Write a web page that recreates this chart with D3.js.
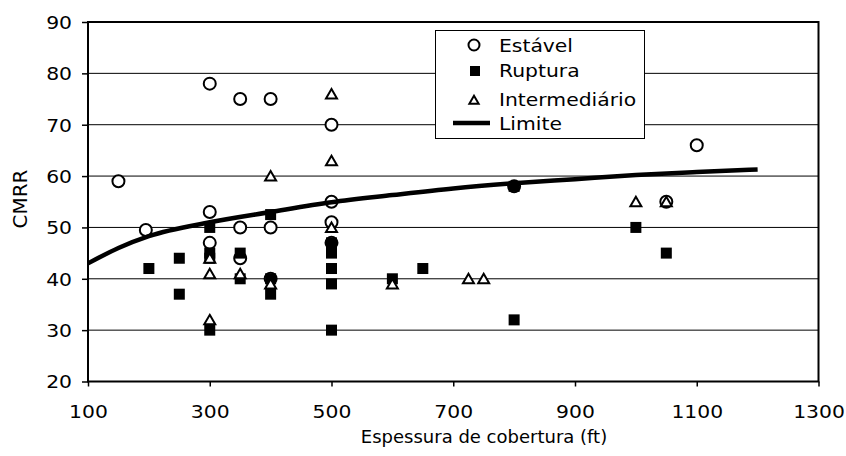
<!DOCTYPE html>
<html>
<head>
<meta charset="utf-8">
<script src="https://cdn.jsdelivr.net/npm/d3@7"></script>
<style>
  body { margin: 0; background: #fff; }
  text { font-family: "DejaVu Sans", Verdana, sans-serif; fill: #000; }
</style>
</head>
<body>
<div id="chart"></div>
<script>
var width = 846,
  height = 456;

// data: [cobertura (ft), CMRR]
var estavel = [[150, 59], [195, 49.5], [300, 78], [300, 53], [300, 47], [350, 75], [350, 50], [350, 44],
  [400, 75], [400, 50], [400, 40], [500, 70], [500, 55], [500, 51], [500, 47], [800, 58], [1050, 55], [1100, 66]];
var ruptura = [[200, 42], [250, 44], [250, 37], [300, 50], [300, 45], [300, 44], [300, 30], [350, 45], [350, 40],
  [400, 52.5], [400, 40], [400, 37], [500, 47], [500, 45], [500, 42], [500, 39], [500, 30], [600, 40], [650, 42],
  [800, 58], [800, 32], [1000, 50], [1050, 45]];
var intermediario = [[300, 44], [300, 41], [300, 32], [350, 41], [400, 60], [400, 39], [500, 76], [500, 63],
  [500, 50], [600, 39], [725, 40], [750, 40], [1000, 55], [1050, 55]];
var limite = [[100, 43], [150, 46], [200, 48.3], [300, 51], [400, 53], [500, 54.9], [600, 56.3], [700, 57.6],
  [800, 58.6], [900, 59.4], [1000, 60.2], [1100, 60.8], [1200, 61.3]];

var xTicks = [100, 300, 500, 700, 900, 1100, 1300];
var yTicks = [20, 30, 40, 50, 60, 70, 80, 90];
var legendNames = ["Estável", "Ruptura", "Intermediário", "Limite"];

var x = d3.scaleLinear().domain([100, 1300]).range([88, 818.5]);
var y = d3.scaleLinear().domain([20, 90]).range([381.5, 22]);

// the original text is a bit wider than DejaVu, stretch it a little
var sx = 1.13;
var fs = "18px";

var svg = d3.select("#chart").append("svg")
  .attr("width", width)
  .attr("height", height);

svg.append("rect").attr("width", width).attr("height", height).attr("fill", "#fff");

// gridlines
svg.append("g")
  .selectAll("line")
  .data(yTicks)
  .enter().append("line")
    .attr("x1", x(100)).attr("x2", x(1300))
    .attr("y1", function(d) { return y(d); })
    .attr("y2", function(d) { return y(d); })
    .attr("stroke", "#000")
    .attr("stroke-width", 1);

var triangle = "M0,-5L5.5,4.5L-5.5,4.5Z";

function drawCircles(g, data) {
  g.selectAll("circle")
    .data(data)
    .enter().append("circle")
      .attr("cx", function(d) { return x(d[0]); })
      .attr("cy", function(d) { return y(d[1]); })
      .attr("r", 6)
      .attr("fill", "#fff")
      .attr("stroke", "#000")
      .attr("stroke-width", 2);
}

function drawSquares(g, data) {
  g.selectAll("rect")
    .data(data)
    .enter().append("rect")
      .attr("x", function(d) { return x(d[0]) - 5.5; })
      .attr("y", function(d) { return y(d[1]) - 5.5; })
      .attr("width", 11)
      .attr("height", 11)
      .attr("fill", "#000");
}

function drawTriangles(g, data) {
  g.selectAll("path")
    .data(data)
    .enter().append("path")
      .attr("d", triangle)
      .attr("transform", function(d) { return "translate(" + x(d[0]) + "," + y(d[1]) + ")"; })
      .attr("fill", "#fff")
      .attr("stroke", "#000")
      .attr("stroke-width", 2);
}

drawCircles(svg.append("g"), estavel);
drawSquares(svg.append("g"), ruptura);
drawTriangles(svg.append("g"), intermediario);

var line = d3.line()
  .x(function(d) { return x(d[0]); })
  .y(function(d) { return y(d[1]); })
  .curve(d3.curveMonotoneX);

svg.append("path")
  .datum(limite)
  .attr("d", line)
  .attr("fill", "none")
  .attr("stroke", "#000")
  .attr("stroke-width", 4.5);

// frame
svg.append("rect")
  .attr("x", x(100)).attr("y", y(90))
  .attr("width", x(1300) - x(100))
  .attr("height", y(20) - y(90))
  .attr("fill", "none")
  .attr("stroke", "#000")
  .attr("stroke-width", 2);

// axes
var xAxis = svg.append("g")
  .attr("transform", "translate(0," + y(20) + ")")
  .call(d3.axisBottom(x).tickValues(xTicks).tickSize(5).tickFormat(d3.format("d")));
var yAxis = svg.append("g")
  .attr("transform", "translate(" + x(100) + ",0)")
  .call(d3.axisLeft(y).tickValues(yTicks).tickSize(6).tickFormat(d3.format("d")));

[xAxis, yAxis].forEach(function(a) {
  a.select(".domain").remove();
  a.selectAll("line").attr("stroke", "#000").attr("stroke-width", 1.5);
  a.selectAll("text")
    .style("font-family", "DejaVu Sans, Verdana, sans-serif")
    .style("font-size", fs)
    .attr("fill", "#000");
});
xAxis.selectAll("text")
  .attr("y", 30).attr("dy", "0.35em")
  .attr("transform", "scale(" + sx + ",1)");
yAxis.selectAll("text")
  .attr("x", -16 / sx).attr("dy", "0.35em")
  .attr("transform", "scale(" + sx + ",1)");

svg.append("text")
  .attr("transform", "translate(484,443)")
  .attr("text-anchor", "middle")
  .style("font-size", fs)
  .text("Espessura de cobertura (ft)");

svg.append("text")
  .attr("transform", "translate(27,199) rotate(-90)")
  .attr("text-anchor", "middle")
  .style("font-size", "20px")
  .text("CMRR");

// legend
var legend = svg.append("g");
legend.append("rect")
  .attr("x", 435.5).attr("y", 30.5)
  .attr("width", 209).attr("height", 108)
  .attr("fill", "#fff")
  .attr("stroke", "#000")
  .attr("stroke-width", 1);

var rowY = [45, 71, 100, 123];
var baseY = [52, 77, 106, 130];

legend.append("circle")
  .attr("cx", 474).attr("cy", rowY[0]).attr("r", 5.5)
  .attr("fill", "#fff").attr("stroke", "#000").attr("stroke-width", 2);
legend.append("rect")
  .attr("x", 470).attr("y", rowY[1] - 5).attr("width", 10).attr("height", 10)
  .attr("fill", "#000");
legend.append("path")
  .attr("d", triangle)
  .attr("transform", "translate(474," + rowY[2] + ") scale(0.85)")
  .attr("fill", "#fff").attr("stroke", "#000").attr("stroke-width", 2.3);
legend.append("line")
  .attr("x1", 453).attr("x2", 490)
  .attr("y1", rowY[3]).attr("y2", rowY[3])
  .attr("stroke", "#000").attr("stroke-width", 4.5);

legend.selectAll("text.lbl")
  .data(legendNames)
  .enter().append("text")
    .attr("class", "lbl")
    .attr("transform", function(d, i) { return "translate(499," + baseY[i] + ") scale(" + sx + ",1)"; })
    .style("font-size", fs)
    .text(function(d) { return d; });
</script>
</body>
</html>
